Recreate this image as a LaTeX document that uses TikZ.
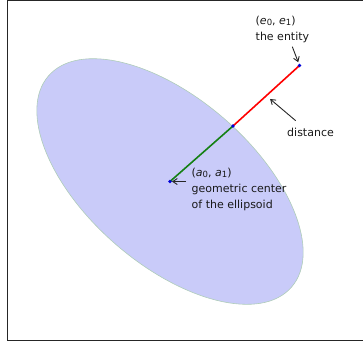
\documentclass[tikz,border=0pt]{standalone}
\usepackage{fontspec}
\setmainfont{DejaVu Sans}
\usetikzlibrary{arrows.meta,calc}

\newcommand{\idx}[2]{\textit{#1}\raisebox{-0.3ex}{\fontsize{8.5}{10}\selectfont #2}}

\begin{document}
\begin{tikzpicture}[
				x=1pt, y=-1pt,
				font=\fontsize{11}{16}\selectfont,
				>={Straight Barb[length=4.5pt,width=6pt]},
				% Shape styles
				frame/.style={draw=black!85, line width=1pt},
				blob/.style={
					fill={rgb,255:red,201;green,203;blue,249},
					draw={rgb,255:red,175;green,205;blue,185}, line width=0.6pt
				},
				inseg/.style={draw={rgb,255:red,20;green,128;blue,20}, line width=1.6pt},
				outseg/.style={draw=red, line width=1.6pt},
				dot/.style={circle, fill=blue!85!black, inner sep=0pt, minimum size=3.6pt},
				% Text and arrows
				note/.style={align=left, inner sep=0pt, anchor=base west, black!90},
				arr/.style={->, line width=0.9pt, black!85}
				]
				
				\useasboundingbox (0,0) rectangle (363,343);
				\draw[frame] (7,0.6) rectangle (368,340);
				
				%% ─── ELLIPSOID ───────────────────────────────────────────────
				\coordinate (ctr) at (170,181.5);
				\coordinate (bdr) at (233,126);
				\coordinate (ent) at (299.5,65.5);
				\coordinate (mid) at ($(bdr)!0.5!(ent)$);
				
				\path[blob, rotate around={-41:(ctr)}] (ctr) ellipse [x radius=161, y radius=83];
				
				\draw[inseg]  (ctr) -- (bdr);
				\draw[outseg] (bdr) -- (ent);
				
				\node[dot] (center) at (ctr) {};
				\node[dot] (border) at (bdr) {};
				\node[dot] (entity) at (ent) {};
				
				%% ─── LABELS ──────────────────────────────────────────────────
				\node[note] (entlbl) at (255.5,40)
				{(\idx{e}{0}, \idx{e}{1})\\the entity};
				\node[note] (distlbl) at (287,136) {distance};
				\node[note] (ctrlbl) at (191.5,208)
				{(\idx{a}{0}, \idx{a}{1})\\geometric center\\of the ellipsoid};
				
				\coordinate (enttail)  at (292.3,46.7);
				\coordinate (disttail) at (295.7,120.7);
				\coordinate (ctrtail)  at (186,181.5);
				
				\draw[arr, shorten >=3.5pt] (enttail) -- (entity.center);
				\draw[arr, shorten >=5pt] (disttail) -- (mid);
				\draw[arr, shorten >=2pt] (ctrtail) -- (center.center);
				
			\end{tikzpicture}
\end{document}
